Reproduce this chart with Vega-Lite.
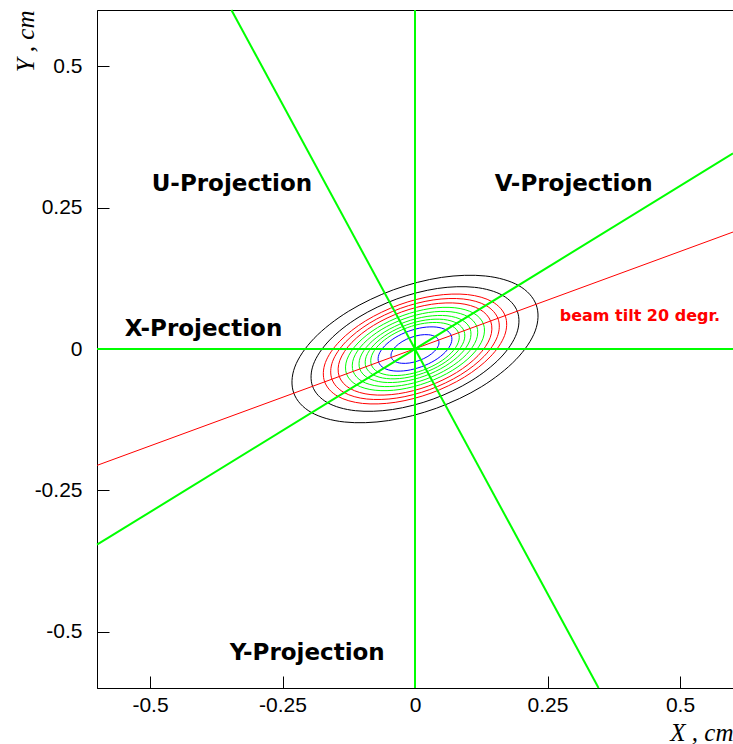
{
  "$schema": "https://vega.github.io/schema/vega-lite/v6.json",
  "width": 636,
  "height": 678,
  "autosize": "none",
  "padding": {"left": 97, "top": 10, "right": 0, "bottom": 56},
  "background": "white",
  "config": {"view": {"stroke": "black", "strokeWidth": 1}},
  "datasets": {
    "contours": [
      {"l":1,"c":"k","i":0,"x":0.2287,"y":0.0781},{"l":1,"c":"k","i":1,"x":0.1958,"y":0.1122},{"l":1,"c":"k","i":2,"x":0.1330,"y":0.1292},{"l":1,"c":"k","i":3,"x":0.0500,"y":0.1267},
      {"l":1,"c":"k","i":4,"x":-0.0406,"y":0.1048},{"l":1,"c":"k","i":5,"x":-0.1251,"y":0.0669},{"l":1,"c":"k","i":6,"x":-0.1904,"y":0.0188},{"l":1,"c":"k","i":7,"x":-0.2268,"y":-0.0320},
      {"l":1,"c":"k","i":8,"x":-0.2287,"y":-0.0781},{"l":1,"c":"k","i":9,"x":-0.1958,"y":-0.1122},{"l":1,"c":"k","i":10,"x":-0.1330,"y":-0.1292},{"l":1,"c":"k","i":11,"x":-0.0500,"y":-0.1267},
      {"l":1,"c":"k","i":12,"x":0.0406,"y":-0.1048},{"l":1,"c":"k","i":13,"x":0.1251,"y":-0.0669},{"l":1,"c":"k","i":14,"x":0.1904,"y":-0.0188},{"l":1,"c":"k","i":15,"x":0.2268,"y":0.0320},

      {"l":2,"c":"k","i":0,"x":0.1933,"y":0.0660},{"l":2,"c":"k","i":1,"x":0.1655,"y":0.0948},{"l":2,"c":"k","i":2,"x":0.1124,"y":0.1092},{"l":2,"c":"k","i":3,"x":0.0423,"y":0.1071},
      {"l":2,"c":"k","i":4,"x":-0.0343,"y":0.0886},{"l":2,"c":"k","i":5,"x":-0.1057,"y":0.0565},{"l":2,"c":"k","i":6,"x":-0.1609,"y":0.0159},{"l":2,"c":"k","i":7,"x":-0.1916,"y":-0.0270},
      {"l":2,"c":"k","i":8,"x":-0.1933,"y":-0.0660},{"l":2,"c":"k","i":9,"x":-0.1655,"y":-0.0948},{"l":2,"c":"k","i":10,"x":-0.1124,"y":-0.1092},{"l":2,"c":"k","i":11,"x":-0.0423,"y":-0.1071},
      {"l":2,"c":"k","i":12,"x":0.0343,"y":-0.0886},{"l":2,"c":"k","i":13,"x":0.1057,"y":-0.0565},{"l":2,"c":"k","i":14,"x":0.1609,"y":-0.0159},{"l":2,"c":"k","i":15,"x":0.1916,"y":0.0270},

      {"l":3,"c":"r","i":0,"x":0.1704,"y":0.0582},{"l":3,"c":"r","i":1,"x":0.1459,"y":0.0836},{"l":3,"c":"r","i":2,"x":0.0991,"y":0.0963},{"l":3,"c":"r","i":3,"x":0.0373,"y":0.0944},
      {"l":3,"c":"r","i":4,"x":-0.0302,"y":0.0781},{"l":3,"c":"r","i":5,"x":-0.0932,"y":0.0498},{"l":3,"c":"r","i":6,"x":-0.1418,"y":0.0140},{"l":3,"c":"r","i":7,"x":-0.1690,"y":-0.0238},
      {"l":3,"c":"r","i":8,"x":-0.1704,"y":-0.0582},{"l":3,"c":"r","i":9,"x":-0.1459,"y":-0.0836},{"l":3,"c":"r","i":10,"x":-0.0991,"y":-0.0963},{"l":3,"c":"r","i":11,"x":-0.0373,"y":-0.0944},
      {"l":3,"c":"r","i":12,"x":0.0302,"y":-0.0781},{"l":3,"c":"r","i":13,"x":0.0932,"y":-0.0498},{"l":3,"c":"r","i":14,"x":0.1418,"y":-0.0140},{"l":3,"c":"r","i":15,"x":0.1690,"y":0.0238},

      {"l":4,"c":"r","i":0,"x":0.1567,"y":0.0535},{"l":4,"c":"r","i":1,"x":0.1341,"y":0.0769},{"l":4,"c":"r","i":2,"x":0.0911,"y":0.0885},{"l":4,"c":"r","i":3,"x":0.0343,"y":0.0868},
      {"l":4,"c":"r","i":4,"x":-0.0278,"y":0.0718},{"l":4,"c":"r","i":5,"x":-0.0857,"y":0.0458},{"l":4,"c":"r","i":6,"x":-0.1304,"y":0.0129},{"l":4,"c":"r","i":7,"x":-0.1554,"y":-0.0219},
      {"l":4,"c":"r","i":8,"x":-0.1567,"y":-0.0535},{"l":4,"c":"r","i":9,"x":-0.1341,"y":-0.0769},{"l":4,"c":"r","i":10,"x":-0.0911,"y":-0.0885},{"l":4,"c":"r","i":11,"x":-0.0343,"y":-0.0868},
      {"l":4,"c":"r","i":12,"x":0.0278,"y":-0.0718},{"l":4,"c":"r","i":13,"x":0.0857,"y":-0.0458},{"l":4,"c":"r","i":14,"x":0.1304,"y":-0.0129},{"l":4,"c":"r","i":15,"x":0.1554,"y":0.0219},

      {"l":5,"c":"r","i":0,"x":0.1429,"y":0.0488},{"l":5,"c":"r","i":1,"x":0.1224,"y":0.0701},{"l":5,"c":"r","i":2,"x":0.0831,"y":0.0808},{"l":5,"c":"r","i":3,"x":0.0313,"y":0.0792},
      {"l":5,"c":"r","i":4,"x":-0.0254,"y":0.0655},{"l":5,"c":"r","i":5,"x":-0.0782,"y":0.0418},{"l":5,"c":"r","i":6,"x":-0.1190,"y":0.0118},{"l":5,"c":"r","i":7,"x":-0.1418,"y":-0.0200},
      {"l":5,"c":"r","i":8,"x":-0.1429,"y":-0.0488},{"l":5,"c":"r","i":9,"x":-0.1224,"y":-0.0701},{"l":5,"c":"r","i":10,"x":-0.0831,"y":-0.0808},{"l":5,"c":"r","i":11,"x":-0.0313,"y":-0.0792},
      {"l":5,"c":"r","i":12,"x":0.0254,"y":-0.0655},{"l":5,"c":"r","i":13,"x":0.0782,"y":-0.0418},{"l":5,"c":"r","i":14,"x":0.1190,"y":-0.0118},{"l":5,"c":"r","i":15,"x":0.1418,"y":0.0200},

      {"l":6,"c":"g","i":0,"x":0.1292,"y":0.0441},{"l":6,"c":"g","i":1,"x":0.1106,"y":0.0634},{"l":6,"c":"g","i":2,"x":0.0751,"y":0.0730},{"l":6,"c":"g","i":3,"x":0.0283,"y":0.0716},
      {"l":6,"c":"g","i":4,"x":-0.0229,"y":0.0592},{"l":6,"c":"g","i":5,"x":-0.0707,"y":0.0378},{"l":6,"c":"g","i":6,"x":-0.1076,"y":0.0106},{"l":6,"c":"g","i":7,"x":-0.1281,"y":-0.0181},
      {"l":6,"c":"g","i":8,"x":-0.1292,"y":-0.0441},{"l":6,"c":"g","i":9,"x":-0.1106,"y":-0.0634},{"l":6,"c":"g","i":10,"x":-0.0751,"y":-0.0730},{"l":6,"c":"g","i":11,"x":-0.0283,"y":-0.0716},
      {"l":6,"c":"g","i":12,"x":0.0229,"y":-0.0592},{"l":6,"c":"g","i":13,"x":0.0707,"y":-0.0378},{"l":6,"c":"g","i":14,"x":0.1076,"y":-0.0106},{"l":6,"c":"g","i":15,"x":0.1281,"y":0.0181},

      {"l":7,"c":"g","i":0,"x":0.1166,"y":0.0398},{"l":7,"c":"g","i":1,"x":0.0999,"y":0.0572},{"l":7,"c":"g","i":2,"x":0.0678,"y":0.0659},{"l":7,"c":"g","i":3,"x":0.0255,"y":0.0646},
      {"l":7,"c":"g","i":4,"x":-0.0207,"y":0.0534},{"l":7,"c":"g","i":5,"x":-0.0638,"y":0.0341},{"l":7,"c":"g","i":6,"x":-0.0971,"y":0.0096},{"l":7,"c":"g","i":7,"x":-0.1157,"y":-0.0163},
      {"l":7,"c":"g","i":8,"x":-0.1166,"y":-0.0398},{"l":7,"c":"g","i":9,"x":-0.0999,"y":-0.0572},{"l":7,"c":"g","i":10,"x":-0.0678,"y":-0.0659},{"l":7,"c":"g","i":11,"x":-0.0255,"y":-0.0646},
      {"l":7,"c":"g","i":12,"x":0.0207,"y":-0.0534},{"l":7,"c":"g","i":13,"x":0.0638,"y":-0.0341},{"l":7,"c":"g","i":14,"x":0.0971,"y":-0.0096},{"l":7,"c":"g","i":15,"x":0.1157,"y":0.0163},

      {"l":8,"c":"g","i":0,"x":0.1041,"y":0.0355},{"l":8,"c":"g","i":1,"x":0.0891,"y":0.0511},{"l":8,"c":"g","i":2,"x":0.0605,"y":0.0588},{"l":8,"c":"g","i":3,"x":0.0228,"y":0.0576},
      {"l":8,"c":"g","i":4,"x":-0.0185,"y":0.0477},{"l":8,"c":"g","i":5,"x":-0.0569,"y":0.0304},{"l":8,"c":"g","i":6,"x":-0.0866,"y":0.0086},{"l":8,"c":"g","i":7,"x":-0.1032,"y":-0.0146},
      {"l":8,"c":"g","i":8,"x":-0.1041,"y":-0.0355},{"l":8,"c":"g","i":9,"x":-0.0891,"y":-0.0511},{"l":8,"c":"g","i":10,"x":-0.0605,"y":-0.0588},{"l":8,"c":"g","i":11,"x":-0.0228,"y":-0.0576},
      {"l":8,"c":"g","i":12,"x":0.0185,"y":-0.0477},{"l":8,"c":"g","i":13,"x":0.0569,"y":-0.0304},{"l":8,"c":"g","i":14,"x":0.0866,"y":-0.0086},{"l":8,"c":"g","i":15,"x":0.1032,"y":0.0146},

      {"l":9,"c":"g","i":0,"x":0.0926,"y":0.0316},{"l":9,"c":"g","i":1,"x":0.0793,"y":0.0454},{"l":9,"c":"g","i":2,"x":0.0539,"y":0.0523},{"l":9,"c":"g","i":3,"x":0.0203,"y":0.0513},
      {"l":9,"c":"g","i":4,"x":-0.0164,"y":0.0424},{"l":9,"c":"g","i":5,"x":-0.0507,"y":0.0271},{"l":9,"c":"g","i":6,"x":-0.0771,"y":0.0076},{"l":9,"c":"g","i":7,"x":-0.0919,"y":-0.0130},
      {"l":9,"c":"g","i":8,"x":-0.0926,"y":-0.0316},{"l":9,"c":"g","i":9,"x":-0.0793,"y":-0.0454},{"l":9,"c":"g","i":10,"x":-0.0539,"y":-0.0523},{"l":9,"c":"g","i":11,"x":-0.0203,"y":-0.0513},
      {"l":9,"c":"g","i":12,"x":0.0164,"y":-0.0424},{"l":9,"c":"g","i":13,"x":0.0507,"y":-0.0271},{"l":9,"c":"g","i":14,"x":0.0771,"y":-0.0076},{"l":9,"c":"g","i":15,"x":0.0919,"y":0.0130},

      {"l":10,"c":"g","i":0,"x":0.0823,"y":0.0281},{"l":10,"c":"g","i":1,"x":0.0705,"y":0.0404},{"l":10,"c":"g","i":2,"x":0.0479,"y":0.0465},{"l":10,"c":"g","i":3,"x":0.0180,"y":0.0456},
      {"l":10,"c":"g","i":4,"x":-0.0146,"y":0.0377},{"l":10,"c":"g","i":5,"x":-0.0450,"y":0.0241},{"l":10,"c":"g","i":6,"x":-0.0685,"y":0.0068},{"l":10,"c":"g","i":7,"x":-0.0816,"y":-0.0115},
      {"l":10,"c":"g","i":8,"x":-0.0823,"y":-0.0281},{"l":10,"c":"g","i":9,"x":-0.0705,"y":-0.0404},{"l":10,"c":"g","i":10,"x":-0.0479,"y":-0.0465},{"l":10,"c":"g","i":11,"x":-0.0180,"y":-0.0456},
      {"l":10,"c":"g","i":12,"x":0.0146,"y":-0.0377},{"l":10,"c":"g","i":13,"x":0.0450,"y":-0.0241},{"l":10,"c":"g","i":14,"x":0.0685,"y":-0.0068},{"l":10,"c":"g","i":15,"x":0.0816,"y":0.0115},

      {"l":11,"c":"b","i":0,"x":0.0686,"y":0.0234},{"l":11,"c":"b","i":1,"x":0.0587,"y":0.0337},{"l":11,"c":"b","i":2,"x":0.0399,"y":0.0388},{"l":11,"c":"b","i":3,"x":0.0150,"y":0.0380},
      {"l":11,"c":"b","i":4,"x":-0.0122,"y":0.0314},{"l":11,"c":"b","i":5,"x":-0.0375,"y":0.0201},{"l":11,"c":"b","i":6,"x":-0.0571,"y":0.0056},{"l":11,"c":"b","i":7,"x":-0.0680,"y":-0.0096},
      {"l":11,"c":"b","i":8,"x":-0.0686,"y":-0.0234},{"l":11,"c":"b","i":9,"x":-0.0587,"y":-0.0337},{"l":11,"c":"b","i":10,"x":-0.0399,"y":-0.0388},{"l":11,"c":"b","i":11,"x":-0.0150,"y":-0.0380},
      {"l":11,"c":"b","i":12,"x":0.0122,"y":-0.0314},{"l":11,"c":"b","i":13,"x":0.0375,"y":-0.0201},{"l":11,"c":"b","i":14,"x":0.0571,"y":-0.0056},{"l":11,"c":"b","i":15,"x":0.0680,"y":0.0096},

      {"l":12,"c":"b","i":0,"x":0.0446,"y":0.0152},{"l":12,"c":"b","i":1,"x":0.0382,"y":0.0219},{"l":12,"c":"b","i":2,"x":0.0259,"y":0.0252},{"l":12,"c":"b","i":3,"x":0.0098,"y":0.0247},
      {"l":12,"c":"b","i":4,"x":-0.0079,"y":0.0204},{"l":12,"c":"b","i":5,"x":-0.0244,"y":0.0130},{"l":12,"c":"b","i":6,"x":-0.0371,"y":0.0037},{"l":12,"c":"b","i":7,"x":-0.0442,"y":-0.0062},
      {"l":12,"c":"b","i":8,"x":-0.0446,"y":-0.0152},{"l":12,"c":"b","i":9,"x":-0.0382,"y":-0.0219},{"l":12,"c":"b","i":10,"x":-0.0259,"y":-0.0252},{"l":12,"c":"b","i":11,"x":-0.0098,"y":-0.0247},
      {"l":12,"c":"b","i":12,"x":0.0079,"y":-0.0204},{"l":12,"c":"b","i":13,"x":0.0244,"y":-0.0130},{"l":12,"c":"b","i":14,"x":0.0371,"y":-0.0037},{"l":12,"c":"b","i":15,"x":0.0442,"y":0.0062}
    ],
    "projections": [
      {"ln":"X","x":-0.6,"y":0},{"ln":"X","x":0.6,"y":0},
      {"ln":"Y","x":0,"y":-0.6},{"ln":"Y","x":0,"y":0.6},
      {"ln":"V","x":-0.6,"y":-0.3464},{"ln":"V","x":0.6,"y":0.3464},
      {"ln":"U","x":-0.3464,"y":0.6},{"ln":"U","x":0.3464,"y":-0.6}
    ],
    "beam": [
      {"x":-0.6,"y":-0.206},{"x":0.6,"y":0.207}
    ],
    "labels": [
      {"t":"U-Projection","x":-0.4968,"y":0.2788},
      {"t":"V-Projection","x":0.1504,"y":0.2788},
      {"t":"X-Projection","x":-0.5477,"y":0.0227},
      {"t":"Y-Projection","x":-0.3496,"y":-0.5496}
    ],
    "beamlabel": [
      {"t":"beam tilt 20 degr.","x":0.2730,"y":0.0504}
    ]
  },
  "encoding": {
    "x": {
      "field": "x", "type": "quantitative",
      "scale": {"domain": [-0.6, 0.6], "nice": false, "zero": false},
      "axis": {
        "values": [-0.5, -0.25, 0, 0.25, 0.5],
        "labelExpr": "'' + datum.value",
        "grid": false, "tickSize": -12, "tickColor": "black", "tickWidth": 1,
        "domainColor": "black", "domainWidth": 1,
        "labelFont": "Liberation Sans", "labelFontSize": 21, "labelColor": "black", "labelPadding": 18, "labelFlush": false,
        "title": "X , cm", "titleFont": "Liberation Serif", "titleFontStyle": "italic", "titleFontWeight": "normal",
        "titleFontSize": 25, "titleColor": "black", "titleAnchor": "end", "titleAlign": "right", "titleBaseline": "alphabetic",
        "titleX": 636, "titleY": 52
      }
    },
    "y": {
      "field": "y", "type": "quantitative",
      "scale": {"domain": [-0.6, 0.6], "nice": false, "zero": false},
      "axis": {
        "values": [-0.5, -0.25, 0, 0.25, 0.5],
        "labelExpr": "'' + datum.value",
        "grid": false, "tickSize": -12, "tickColor": "black", "tickWidth": 1,
        "domainColor": "black", "domainWidth": 1,
        "labelFont": "Liberation Sans", "labelFontSize": 21, "labelColor": "black", "labelPadding": 27, "labelFlush": false,
        "title": "Y , cm", "titleFont": "Liberation Serif", "titleFontStyle": "italic", "titleFontWeight": "normal",
        "titleFontSize": 25, "titleColor": "black", "titleAngle": -90, "titleAlign": "right", "titleBaseline": "alphabetic",
        "titleX": -64, "titleY": 0
      }
    }
  },
  "layer": [
    {
      "data": {"name": "contours"},
      "mark": {"type": "line", "strokeWidth": 1, "interpolate": "cardinal-closed"},
      "encoding": {
        "detail": {"field": "l", "type": "nominal"},
        "order": {"field": "i", "type": "quantitative"},
        "color": {"field": "c", "type": "nominal", "legend": null,
          "scale": {"domain": ["k", "r", "g", "b"], "range": ["#000000", "#ff0000", "#00ff00", "#0000ff"]}}
      }
    },
    {
      "data": {"name": "beam"},
      "mark": {"type": "line", "color": "#ff0000", "strokeWidth": 1},
      "encoding": {}
    },
    {
      "data": {"name": "projections"},
      "mark": {"type": "line", "color": "#00ff00", "strokeWidth": 2},
      "encoding": {"detail": {"field": "ln", "type": "nominal"}}
    },
    {
      "data": {"name": "labels"},
      "mark": {"type": "text", "font": "DejaVu Sans", "fontSize": 23, "fontWeight": "bold", "align": "left", "baseline": "alphabetic", "color": "black"},
      "encoding": {"text": {"field": "t", "type": "nominal"}}
    },
    {
      "data": {"name": "beamlabel"},
      "mark": {"type": "text", "font": "DejaVu Sans", "fontSize": 16, "fontWeight": "bold", "align": "left", "baseline": "alphabetic", "color": "#ff0000"},
      "encoding": {"text": {"field": "t", "type": "nominal"}}
    }
  ]
}
